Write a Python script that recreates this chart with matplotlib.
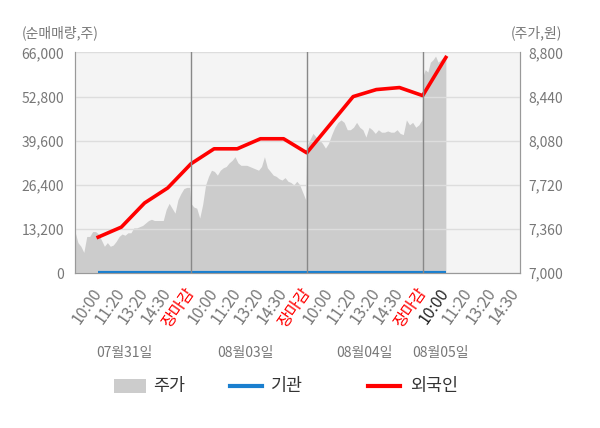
import numpy as np
import matplotlib
matplotlib.use("Agg")
import matplotlib.pyplot as plt
from matplotlib.patches import Rectangle
from matplotlib.lines import Line2D
from matplotlib.transforms import blended_transform_factory

plt.rcParams['font.family'] = ['Noto Sans CJK KR', 'DejaVu Sans']

# Stock price (won), sampled through each trading day
price_day1 = [7340, 7250, 7220, 7170, 7300, 7300, 7340, 7340, 7320, 7270,
              7220, 7250, 7220, 7230, 7260, 7300, 7320, 7310, 7330, 7330,
              7370, 7370, 7380, 7390, 7410, 7430, 7440, 7430, 7430, 7430,
              7430, 7520, 7570, 7530, 7490, 7600, 7650, 7690, 7700, 7700]
price_day2 = [7570, 7540, 7530, 7450, 7560, 7720, 7790, 7840, 7830, 7800,
              7840, 7860, 7870, 7900, 7920, 7950, 7900, 7880, 7880, 7880,
              7870, 7860, 7850, 7840, 7870, 7950, 7860, 7830, 7800, 7790,
              7770, 7760, 7780, 7750, 7740, 7720, 7750, 7720, 7660, 7600]
price_day3 = [8030, 8090, 8140, 8110, 8090, 8060, 8020, 8060, 8130, 8190,
              8230, 8250, 8230, 8170, 8170, 8190, 8230, 8190, 8170, 8110,
              8190, 8170, 8140, 8170, 8150, 8150, 8160, 8150, 8150, 8170,
              8140, 8130, 8250, 8210, 8230, 8190, 8210, 8250]
price_day4 = [8600, 8660, 8640, 8720, 8740, 8770, 8720, 8740, 8760, 8770]

# Net buying volume (shares) at each tick
foreign = [10800, 13800, 21000, 25500, 32700, 37200, 37200, 40200, 40200, 36000,
           44400, 52800, 54900, 55500, 53100, 64500]
institution = [0, 0, 0, 0, 0, 0, 0, 0, 0, 0, 0, 0, 0, 0, 0, 0]

tick_labels = ['10:00', '11:20', '13:20', '14:30', '장마감'] * 3 + ['10:00', '11:20', '13:20', '14:30']
dates = ['07월31일', '08월03일', '08월04일', '08월05일']
date_pos = [2.15, 7.35, 12.5, 15.75]

GRAY_TXT = '#777777'
W, H = 600, 428

# x positions of the minute samples, one span per day
price_x = np.concatenate([
    np.linspace(0, 4.95, len(price_day1)),
    np.linspace(5, 9.95, len(price_day2)),
    np.linspace(10, 14.97, len(price_day3)),
    np.linspace(15, 16, len(price_day4)),
])
price = np.array(price_day1 + price_day2 + price_day3 + price_day4)
flow_x = np.arange(1, len(foreign) + 1)

fig = plt.figure(figsize=(6, 4.28), dpi=100)
ax2 = fig.add_axes([0.125, 0.3615, 0.7417, 0.516])
ax = ax2.twinx()
ax.yaxis.tick_left()
ax2.yaxis.tick_right()
ax.set_zorder(ax2.get_zorder() + 1)
ax.patch.set_visible(False)
ax2.set_facecolor('#f4f4f4')

# price area on the right scale
ax2.fill_between(price_x, 7000, price, color='#cccccc', lw=0)
ax2.set_ylim(7000, 8800)
ax2.set_yticks(np.arange(7000, 8801, 360))
ax2.set_yticklabels([f'{v:,}' for v in range(7000, 8801, 360)])

# net buying lines on the left scale
ax.plot(flow_x, institution, color='#1a7fcf', lw=3, solid_capstyle='butt')
ax.plot(flow_x, foreign, color='#ff0000', lw=2.6)
ax.set_ylim(0, 66000)
ax.set_yticks(np.arange(0, 66001, 13200))
ax.set_yticklabels([f'{v:,}' for v in range(0, 66001, 13200)])
ax.grid(axis='y', color='#dddddd', lw=1)
for d in [5, 10, 15]:
    ax.axvline(d, color='#888888', lw=1)

# x ticks live on the base axes (the twin hides its x axis)
ax2.set_xlim(0, 19.2)
ax2.set_xticks(np.arange(1, len(tick_labels) + 1))
ax2.set_xticklabels(tick_labels, rotation=55, ha='right', va='center', rotation_mode='anchor')
for i, lbl in enumerate(ax2.get_xticklabels()):
    if lbl.get_text() == '장마감':
        lbl.set_color('red')
    elif i == 15:
        lbl.set_color('#222222')
    else:
        lbl.set_color(GRAY_TXT)

ax2.tick_params(axis='x', length=0, labelsize=11.5, pad=12)
ax.tick_params(axis='y', length=0, labelsize=10, labelcolor=GRAY_TXT, pad=8)
ax2.tick_params(axis='y', length=0, labelsize=10, labelcolor=GRAY_TXT, pad=6)

for a in (ax, ax2):
    for s in a.spines.values():
        s.set_color('#999999')
    a.spines['top'].set_visible(False)

fig.text(0.037, 0.923, '(순매매량,주)', fontsize=10, color=GRAY_TXT, va='center', ha='left')
fig.text(0.937, 0.923, '(주가,원)', fontsize=10, color=GRAY_TXT, va='center', ha='right')

trans = blended_transform_factory(ax.transData, fig.transFigure)
for xp, d in zip(date_pos, dates):
    ax.text(xp, 0.175, d, transform=trans, ha='center', va='center', fontsize=10, color=GRAY_TXT)

# legend, laid out by hand in pixel terms
ly = 1 - 385.5 / H
fig.add_artist(Rectangle((114 / W, 1 - 392.5 / H), 32 / W, 14 / H,
                         transform=fig.transFigure, color='#cccccc', lw=0))
fig.add_artist(Line2D([230 / W, 262 / W], [ly, ly], transform=fig.transFigure,
                      color='#1a7fcf', lw=3))
fig.add_artist(Line2D([368 / W, 400 / W], [ly, ly], transform=fig.transFigure,
                      color='#ff0000', lw=3))
for tx, txt in [(153, '주가'), (271, '기관'), (410, '외국인')]:
    fig.text(tx / W, ly, txt, fontsize=12.5, color='#333333', va='center', ha='left')

fig.savefig('out.png', dpi=100)
